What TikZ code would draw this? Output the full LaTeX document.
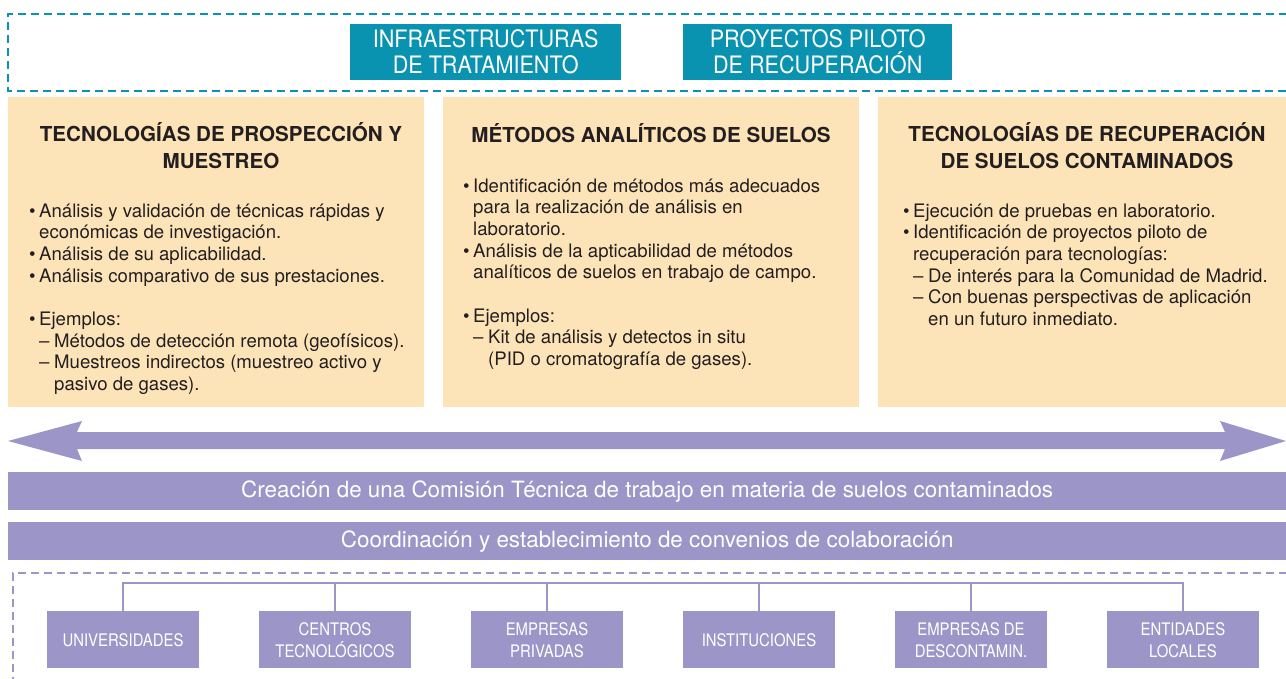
\documentclass[tikz,border=0pt]{standalone}
\usepackage{fontspec}
\setmainfont{TeX Gyre Heros}
\newfontfamily\condfont[FakeStretch=0.9]{TeX Gyre Heros}
\newfontfamily\memfont[FakeStretch=0.86]{TeX Gyre Heros}
\definecolor{tealc}{HTML}{0A92B1}
\definecolor{lila}{HTML}{9C96C8}
\definecolor{peach}{HTML}{FDE3B8}
\definecolor{ink}{HTML}{231F20}
\newcommand\bl{\makebox[10pt][l]{\textbullet}}
\newcommand\ind{\hspace*{10pt}}
\newcommand\dl{\hspace*{10pt}\makebox[15pt][l]{–}}
\newcommand\dind{\hspace*{25pt}}
\newcommand\bodytext[1]{\vtop{\hsize=420pt\parindent=0pt\fontsize{18.6}{21.7}\selectfont\leavevmode#1}}
\newcommand\titletext[1]{\fontsize{20.6}{27}\selectfont\bfseries\begin{tabular}[t]{@{}c@{}}#1\end{tabular}}
\begin{document}
\begin{tikzpicture}[x=1pt,y=-1pt,
  tealbox/.style={fill=tealc,text=white,inner sep=0pt,align=center,
    minimum height=56pt,anchor=north west,font=\condfont\fontsize{24}{26}\selectfont},
  peachbox/.style={fill=peach,inner sep=0pt,minimum height=310pt,anchor=north west},
  bar/.style={fill=lila,text=white,inner sep=0pt,minimum height=38pt,minimum width=1278pt,
    anchor=north west,font=\fontsize{22.4}{26}\selectfont},
  member/.style={fill=lila,text=white,inner sep=0pt,minimum width=152pt,minimum height=57pt,
    anchor=north,align=center,font=\memfont\fontsize{17.3}{22}\selectfont},
  ttl/.style={anchor=base,inner sep=0pt,text=ink},
  body/.style={anchor=base west,inner sep=0pt,text=ink},
  tdash/.style={draw=tealc,line width=2.6pt,dash pattern=on 8pt off 5pt},
  ldash/.style={draw=lila,line width=2pt,dash pattern=on 8pt off 5pt},
  treeline/.style={draw=lila,line width=2.5pt}]
\useasboundingbox (0,0) rectangle (1286,678);
\clip (0,0) rectangle (1286,678);
% top dashed frame
\draw[tdash] (1300,14) -- (8,14) -- (8,91) -- (1300,91);
\node[tealbox,minimum width=271pt] (infra) at (350,24) {INFRAESTRUCTURAS\\DE TRATAMIENTO};
\node[tealbox,minimum width=269pt] (piloto) at (683,24) {PROYECTOS PILOTO\\DE RECUPERACIÓN};
% peach boxes
\node[peachbox,minimum width=416pt] (p1) at (8,97) {};
\node[peachbox,minimum width=416pt] (p2) at (443,97) {};
\node[peachbox,minimum width=420pt] (p3) at (878,97) {};
\node[ttl] (t1) at (221,141) {\titletext{TECNOLOGÍAS DE PROSPECCIÓN Y\\MUESTREO}};
\node[ttl] (t2) at (651,142) {\titletext{MÉTODOS ANALÍTICOS DE SUELOS}};
\node[ttl] (t3) at (1087,141) {\titletext{TECNOLOGÍAS DE RECUPERACIÓN\\DE SUELOS CONTAMINADOS}};
\node[body] (b1) at (29,217) {\bodytext{%
\bl Análisis y validación de técnicas rápidas y\\
\ind económicas de investigación.\\
\bl Análisis de su aplicabilidad.\\
\bl Análisis comparativo de sus prestaciones.\\
\mbox{}\\
\bl Ejemplos:\\
\dl Métodos de detección remota (geofísicos).\\
\dl Muestreos indirectos (muestreo activo y\\
\dind pasivo de gases).}};
\node[body] (b2) at (463,192) {\bodytext{%
\bl Identificación de métodos más adecuados\\
\ind para la realización de análisis en\\
\ind laboratorio.\\
\bl Análisis de la apticabilidad de métodos\\
\ind analíticos de suelos en trabajo de campo.\\
\mbox{}\\
\bl Ejemplos:\\
\dl Kit de análisis y detectos in situ\\
\dind (PID o cromatografía de gases).}};
\node[body] (b3) at (903,217) {\bodytext{%
\bl Ejecución de pruebas en laboratorio.\\
\bl Identificación de proyectos piloto de\\
\ind recuperación para tecnologías:\\
\dl De interés para la Comunidad de Madrid.\\
\dl Con buenas perspectivas de aplicación\\
\dind en un futuro inmediato.}};
% double arrow
\fill[lila] (8,441) -- (82,421) -- (77,432) -- (1225,432) -- (1220,421) -- (1286,441)
  -- (1220,461) -- (1225,449) -- (77,449) -- (82,461) -- cycle;
% bars
\node[bar] (comision) at (8,472) {Creación de una Comisión Técnica de trabajo en materia de suelos contaminados};
\node[bar] (coord) at (8,522) {Coordinación y establecimiento de convenios de colaboración};
% bottom dashed frame
\draw[ldash] (1300,573) -- (13,573) -- (13,690);
% members
\node[member] (uni) at (123,611) {UNIVERSIDADES};
\node[member] (cen) at (335,611) {CENTROS\\TECNOLÓGICOS};
\node[member] (emp) at (547,611) {EMPRESAS\\PRIVADAS};
\node[member] (ins) at (759,611) {INSTITUCIONES};
\node[member] (des) at (971,611) {EMPRESAS DE\\DESCONTAMIN.};
\node[member] (ent) at (1183,611) {ENTIDADES\\LOCALES};
\coordinate (bus) at (0,583);
\draw[treeline] (uni.north) |- (bus -| ent.north) -- (ent.north);
\foreach \m in {cen,emp,ins,des} \draw[treeline] (\m.north) -- (\m.north |- bus);
\end{tikzpicture}
\end{document}
